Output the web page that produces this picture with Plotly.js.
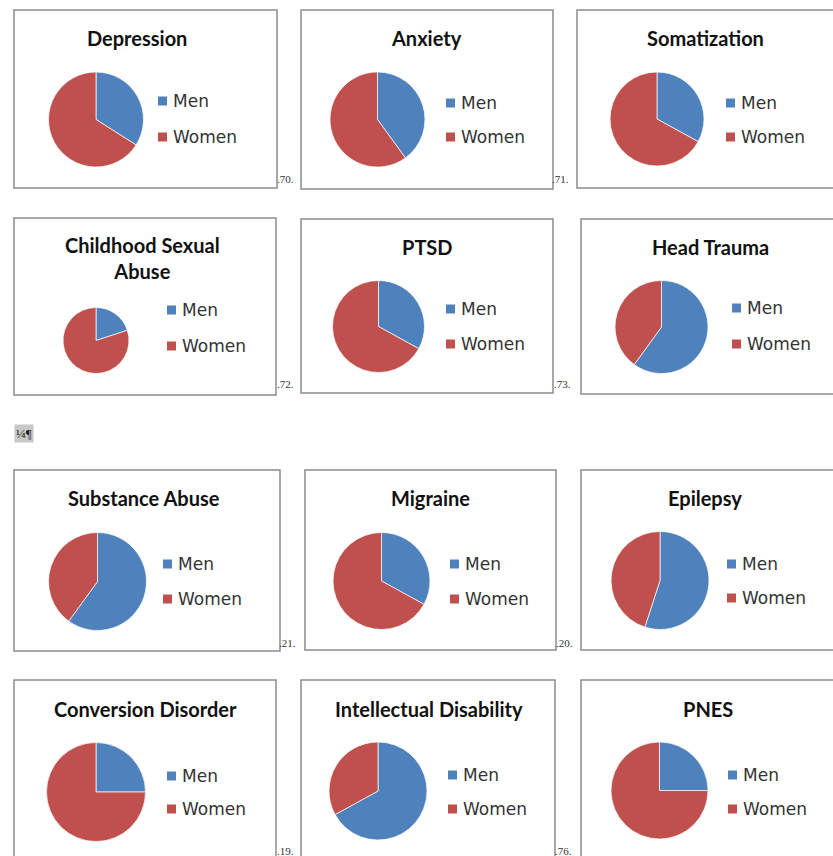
<!DOCTYPE html>
<html>
<head>
<meta charset="utf-8">
<script src="https://cdn.plot.ly/plotly-3.0.1.min.js"></script>
<style>html,body{margin:0;padding:0;background:#fff;}#chart{width:833px;height:856px;}</style>
</head>
<body>
<div id="chart"></div>
<script>
// ---- data ----
const titles = ["Depression", "Anxiety", "Somatization",
  "Childhood Sexual<br>Abuse", "PTSD", "Head Trauma",
  "Substance Abuse", "Migraine", "Epilepsy",
  "Conversion Disorder", "Intellectual Disability", "PNES"];
const sliceLabels = ["Men", "Women"];
const menValues   = [34, 40, 33, 20, 33, 60, 60, 33, 55, 25, 67, 25];
const womenValues = [66, 60, 67, 80, 67, 40, 40, 67, 45, 75, 33, 75];
const noteLabels = [".70.", ".71.", ".72.", ".73.", ".21.", ".20.", ".19.", ".76."];

// ---- layout geometry (pixels) ----
const W = 833, H = 856;
const boxes = [ // x0,y0,x1,y1
  [14,10,277,188],[301,10,553,189],[577,10,840,188],
  [14,218,276,395],[301,219,553,393],[581,219,840,394],
  [14,470,280,651],[305,470,556,650],[581,470,840,650],
  [14,680,276,900],[301,680,555,900],[581,680,840,900]];
const pies = [ // cx,cy,r
  [96,119.5,47.5],[377.5,119.5,47.5],[657,119,47],
  [96,340.5,33],[378.5,326.5,46],[661.5,327,46.5],
  [97.5,581.5,49],[381.5,581,48.5],[660,580.5,49],
  [96,792,49.5],[378,791,49],[659.5,790.5,48.5]];
const titlePos = [
  [137,38],[427,38],[705,38],
  [142.5,258],[427.5,247],[710,247],
  [144,498],[431,498],[705,498],
  [145,709],[429,709],[708,709]];
const legendPos = [ // square left x, men y, women y
  [158,101,137],[446,103,137],[726,103,137],
  [167,310,346],[446,309,344],[732,308,344],
  [163,564,599],[450,564,599],[727,564,598],
  [167,776,809],[448,775,809],[728,775,809]];
const notePos = [[285,179],[560,179],[285,384],[562,384],[287,643],[564,643],[285,851],[563,851]];
const colors = ["#4F81BD", "#C0504D"];

const px = x => x / W;
const py = y => 1 - y / H;

const traces = [];
const shapes = [];
const annotations = [];

for (let i = 0; i < titles.length; i++) {
  const [cx, cy, r] = pies[i];
  traces.push({
    type: "pie",
    labels: sliceLabels,
    values: [menValues[i], womenValues[i]],
    sort: false,
    direction: "clockwise",
    rotation: 0,
    textinfo: "none",
    hoverinfo: "label+percent",
    showlegend: false,
    marker: {colors: colors, line: {color: "rgba(255,255,255,0.7)", width: 1}},
    domain: {x: [px(cx - r), px(cx + r)], y: [py(cy + r), py(cy - r)]}
  });
  const b = boxes[i];
  shapes.push({type: "rect", xref: "paper", yref: "paper",
    x0: px(b[0]), x1: px(b[2]), y0: py(b[3]), y1: py(b[1]),
    line: {color: "#8c8c8c", width: 1.5}, fillcolor: "rgba(0,0,0,0)", layer: "below"});
  annotations.push({xref: "paper", yref: "paper", x: px(titlePos[i][0]), y: py(titlePos[i][1]),
    xanchor: "center", yanchor: "middle", showarrow: false, text: titles[i],
    font: {family: "Lato, 'Open Sans', sans-serif", size: 20, color: "#111", weight: "bold"}});
  const [lx, my, wy] = legendPos[i];
  [my, wy].forEach((yy, k) => {
    shapes.push({type: "rect", xref: "paper", yref: "paper",
      x0: px(lx), x1: px(lx + 9), y0: py(yy + 4.5), y1: py(yy - 4.5),
      line: {width: 0}, fillcolor: colors[k]});
    annotations.push({xref: "paper", yref: "paper", x: px(lx + 13), y: py(yy),
      xanchor: "left", yanchor: "middle", showarrow: false, text: sliceLabels[k],
      font: {family: "'DejaVu Sans', sans-serif", size: 17, color: "#333"}});
  });
}
noteLabels.forEach((t, i) => {
  annotations.push({xref: "paper", yref: "paper", x: px(notePos[i][0]), y: py(notePos[i][1]),
    xanchor: "center", yanchor: "middle", showarrow: false, text: t,
    font: {family: "'Liberation Serif', serif", size: 11, color: "#333"}});
});
annotations.push({xref: "paper", yref: "paper", x: px(14), y: py(433),
  xanchor: "left", yanchor: "middle", showarrow: false, text: "¼¶",
  bgcolor: "#c8c8c8", borderpad: 1,
  font: {family: "'Liberation Serif', serif", size: 13, color: "#222"}});

Plotly.newPlot("chart", traces, {
  width: W, height: H,
  margin: {l: 0, r: 0, t: 0, b: 0},
  paper_bgcolor: "#ffffff",
  showlegend: false,
  shapes: shapes,
  annotations: annotations
}, {displayModeBar: false, staticPlot: true});
</script>
</body>
</html>
